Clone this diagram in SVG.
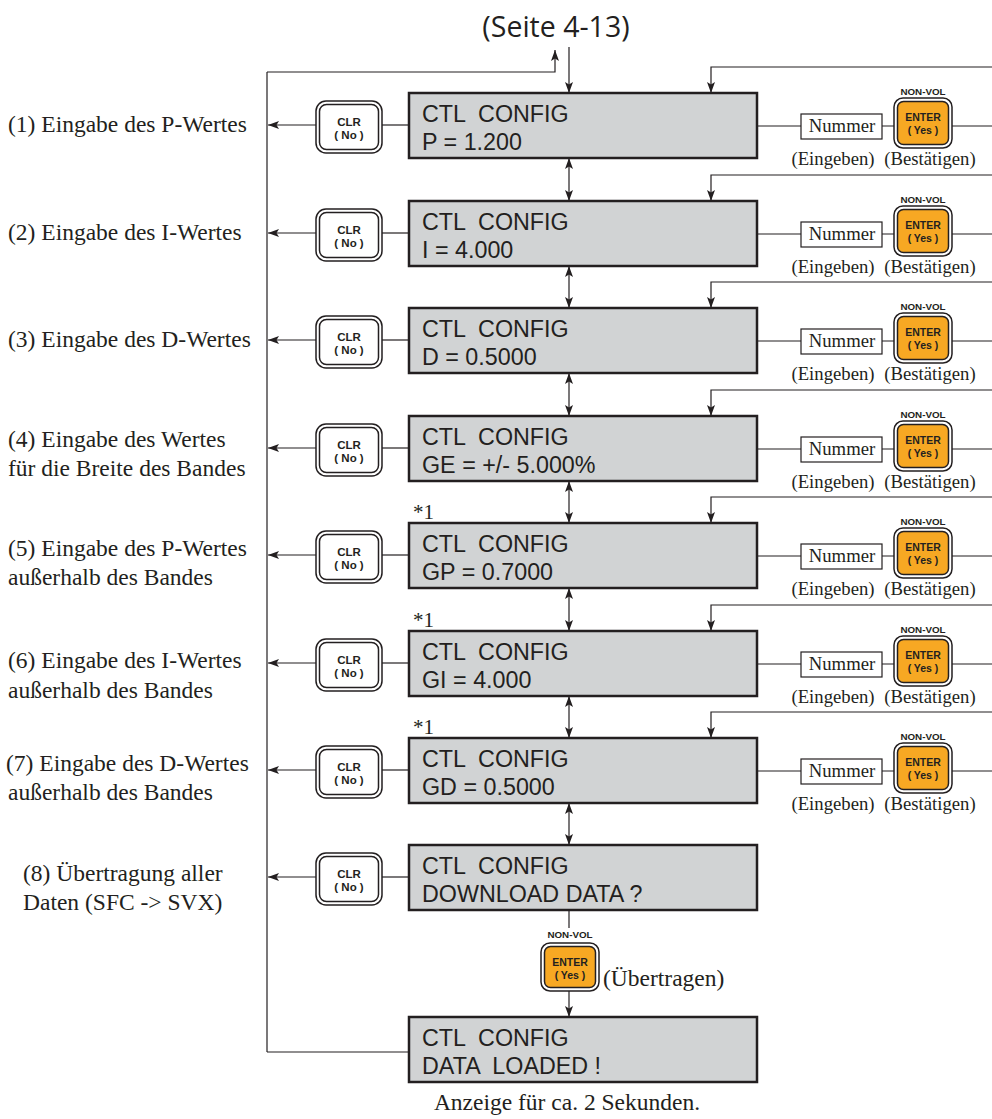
<svg xmlns="http://www.w3.org/2000/svg" width="992" height="1119" viewBox="0 0 992 1119">
<style>
.bg{fill:#fff}
.lcd{fill:#D1D3D4;stroke:#231F20;stroke-width:2.5}
.lcdt{font-family:"Liberation Sans",Arial,sans-serif;font-size:23.3px;fill:#231F20}
.lbl{font-family:"Liberation Serif","Times New Roman",serif;font-size:23.5px;fill:#231F20}
.ast{font-family:"Liberation Serif","Times New Roman",serif;font-size:21px;fill:#231F20}
.sm{font-family:"Liberation Serif","Times New Roman",serif;font-size:18.7px;fill:#231F20;text-anchor:middle}
.bo{fill:#fff;stroke:#231F20;stroke-width:1.5}
.bi{fill:#fff;stroke:#231F20;stroke-width:1.5}
.ei{fill:#F7A823;stroke:#231F20;stroke-width:1.5}
.bt{font-family:"Liberation Sans",Arial,sans-serif;font-weight:bold;font-size:11.5px;fill:#231F20;text-anchor:middle}
.et{font-family:"Liberation Sans",Arial,sans-serif;font-weight:bold;font-size:10.5px;fill:#231F20;text-anchor:middle}
.nv{font-family:"Liberation Sans",Arial,sans-serif;font-weight:bold;font-size:9.8px;fill:#231F20;text-anchor:middle}
.num{fill:#fff;stroke:#231F20;stroke-width:1.2}
.c{fill:none;stroke:#231F20;stroke-width:1.2}
.ca{fill:none;stroke:#231F20;stroke-width:1.2;marker-end:url(#ah)}
.cd{fill:none;stroke:#231F20;stroke-width:1.2;marker-end:url(#ah);marker-start:url(#ah)}
</style>
<defs>
<marker id="ah" markerWidth="11" markerHeight="8" refX="11" refY="4" orient="auto-start-reverse" markerUnits="userSpaceOnUse">
<path d="M0,0 L11,4 L0,8 L2.5,4 z" fill="#231F20"/>
</marker>
</defs>
<rect class="bg" x="0" y="0" width="992" height="1119"/>

<g id="connectors">
<path class="c" d="M267,1052 V72"/>
<path class="ca" d="M267,72 H555 V50"/>
<path class="ca" d="M569,47 V93"/>
<path class="c" d="M267,1052 H409"/>
<!-- row 1 -->
<path class="ca" d="M316,125 H268"/><path class="c" d="M382,125 H409"/>
<path class="c" d="M757,126 H801 M882,126 H894 M952,126 H992"/>
<path class="ca" d="M992,67 H711 V93"/>
<path class="cd" d="M569,158 V201"/>
<!-- row 2 -->
<path class="ca" d="M316,233 H268"/><path class="c" d="M382,233 H409"/>
<path class="c" d="M757,234 H801 M882,234 H894 M952,234 H992"/>
<path class="ca" d="M992,175 H711 V201"/>
<path class="cd" d="M569,266 V308"/>
<!-- row 3 -->
<path class="ca" d="M316,340 H268"/><path class="c" d="M382,340 H409"/>
<path class="c" d="M757,341 H801 M882,341 H894 M952,341 H992"/>
<path class="ca" d="M992,282 H711 V308"/>
<path class="cd" d="M569,373 V416"/>
<!-- row 4 -->
<path class="ca" d="M316,448 H268"/><path class="c" d="M382,448 H409"/>
<path class="c" d="M757,449 H801 M882,449 H894 M952,449 H992"/>
<path class="ca" d="M992,390 H711 V416"/>
<path class="cd" d="M569,481 V523"/>
<!-- row 5 -->
<path class="ca" d="M316,555 H268"/><path class="c" d="M382,555 H409"/>
<path class="c" d="M757,556 H801 M882,556 H894 M952,556 H992"/>
<path class="ca" d="M992,497 H711 V523"/>
<path class="cd" d="M569,588 V631"/>
<!-- row 6 -->
<path class="ca" d="M316,663 H268"/><path class="c" d="M382,663 H409"/>
<path class="c" d="M757,664 H801 M882,664 H894 M952,664 H992"/>
<path class="ca" d="M992,605 H711 V631"/>
<path class="cd" d="M569,696 V738"/>
<!-- row 7 -->
<path class="ca" d="M316,770 H268"/><path class="c" d="M382,770 H409"/>
<path class="c" d="M757,771 H801 M882,771 H894 M952,771 H992"/>
<path class="ca" d="M992,712 H711 V738"/>
<path class="cd" d="M569,803 V845"/>
<!-- row 8 -->
<path class="ca" d="M316,877 H268"/><path class="c" d="M382,877 H409"/>
<path class="c" d="M569,910 V928"/>
<path class="ca" d="M569,991 V1017"/>
</g>

<text x="556" y="37" text-anchor="middle" style="font-family:'Open Sans',sans-serif;font-size:28.5px;fill:#231F20">(Seite 4-13)</text>

<!-- Row 1 -->
<g id="label1"><text class="lbl" x="8" y="132">(1) Eingabe des P-Wertes</text></g>
<g id="clr1"><rect class="bo" x="316" y="101" width="66" height="52" rx="10"/><rect class="bi" x="319.5" y="104.5" width="59" height="45" rx="7"/><text class="bt" x="349" y="126">CLR</text><text class="bt" x="349" y="139">( No )</text></g>
<g id="lcd1"><rect class="lcd" x="409" y="93" width="348" height="65"/><text class="lcdt" x="422" y="122" xml:space="preserve">CTL  CONFIG</text><text class="lcdt" x="422" y="150">P = 1.200</text></g>
<g id="num1"><rect class="num" x="801" y="114" width="81" height="25"/><text class="sm" x="842" y="132">Nummer</text><text class="sm" x="833" y="165">(Eingeben)</text></g>
<g id="ent1"><text class="nv" x="923" y="95">NON-VOL</text><rect class="bo" x="894" y="98" width="58" height="50" rx="9"/><rect class="ei" x="897.5" y="101.5" width="51" height="43" rx="6"/><text class="et" x="923" y="121">ENTER</text><text class="et" x="923" y="134">( Yes )</text><text class="sm" x="930" y="165">(Bestätigen)</text></g>

<!-- Row 2 -->
<g id="label2"><text class="lbl" x="8" y="240">(2) Eingabe des I-Wertes</text></g>
<g id="clr2"><rect class="bo" x="316" y="209" width="66" height="52" rx="10"/><rect class="bi" x="319.5" y="212.5" width="59" height="45" rx="7"/><text class="bt" x="349" y="234">CLR</text><text class="bt" x="349" y="247">( No )</text></g>
<g id="lcd2"><rect class="lcd" x="409" y="201" width="348" height="65"/><text class="lcdt" x="422" y="230" xml:space="preserve">CTL  CONFIG</text><text class="lcdt" x="422" y="258">I = 4.000</text></g>
<g id="num2"><rect class="num" x="801" y="222" width="81" height="25"/><text class="sm" x="842" y="240">Nummer</text><text class="sm" x="833" y="273">(Eingeben)</text></g>
<g id="ent2"><text class="nv" x="923" y="203">NON-VOL</text><rect class="bo" x="894" y="206" width="58" height="50" rx="9"/><rect class="ei" x="897.5" y="209.5" width="51" height="43" rx="6"/><text class="et" x="923" y="229">ENTER</text><text class="et" x="923" y="242">( Yes )</text><text class="sm" x="930" y="273">(Bestätigen)</text></g>

<!-- Row 3 -->
<g id="label3"><text class="lbl" x="8" y="347">(3) Eingabe des D-Wertes</text></g>
<g id="clr3"><rect class="bo" x="316" y="316" width="66" height="52" rx="10"/><rect class="bi" x="319.5" y="319.5" width="59" height="45" rx="7"/><text class="bt" x="349" y="341">CLR</text><text class="bt" x="349" y="354">( No )</text></g>
<g id="lcd3"><rect class="lcd" x="409" y="308" width="348" height="65"/><text class="lcdt" x="422" y="337" xml:space="preserve">CTL  CONFIG</text><text class="lcdt" x="422" y="365">D = 0.5000</text></g>
<g id="num3"><rect class="num" x="801" y="329" width="81" height="25"/><text class="sm" x="842" y="347">Nummer</text><text class="sm" x="833" y="380">(Eingeben)</text></g>
<g id="ent3"><text class="nv" x="923" y="310">NON-VOL</text><rect class="bo" x="894" y="313" width="58" height="50" rx="9"/><rect class="ei" x="897.5" y="316.5" width="51" height="43" rx="6"/><text class="et" x="923" y="336">ENTER</text><text class="et" x="923" y="349">( Yes )</text><text class="sm" x="930" y="380">(Bestätigen)</text></g>

<!-- Row 4 -->
<g id="label4"><text class="lbl" x="8" y="447">(4) Eingabe des Wertes</text><text class="lbl" x="8" y="476">für die Breite des Bandes</text></g>
<g id="clr4"><rect class="bo" x="316" y="424" width="66" height="52" rx="10"/><rect class="bi" x="319.5" y="427.5" width="59" height="45" rx="7"/><text class="bt" x="349" y="449">CLR</text><text class="bt" x="349" y="462">( No )</text></g>
<g id="lcd4"><rect class="lcd" x="409" y="416" width="348" height="65"/><text class="lcdt" x="422" y="445" xml:space="preserve">CTL  CONFIG</text><text class="lcdt" x="422" y="473">GE = +/- 5.000%</text></g>
<g id="num4"><rect class="num" x="801" y="437" width="81" height="25"/><text class="sm" x="842" y="455">Nummer</text><text class="sm" x="833" y="488">(Eingeben)</text></g>
<g id="ent4"><text class="nv" x="923" y="418">NON-VOL</text><rect class="bo" x="894" y="421" width="58" height="50" rx="9"/><rect class="ei" x="897.5" y="424.5" width="51" height="43" rx="6"/><text class="et" x="923" y="444">ENTER</text><text class="et" x="923" y="457">( Yes )</text><text class="sm" x="930" y="488">(Bestätigen)</text></g>

<!-- Row 5 -->
<g id="label5"><text class="lbl" x="8" y="556">(5) Eingabe des P-Wertes</text><text class="lbl" x="8" y="585">außerhalb des Bandes</text></g>
<g id="clr5"><rect class="bo" x="316" y="531" width="66" height="52" rx="10"/><rect class="bi" x="319.5" y="534.5" width="59" height="45" rx="7"/><text class="bt" x="349" y="556">CLR</text><text class="bt" x="349" y="569">( No )</text></g>
<g id="lcd5"><text class="ast" x="413" y="519">*1</text><rect class="lcd" x="409" y="523" width="348" height="65"/><text class="lcdt" x="422" y="552" xml:space="preserve">CTL  CONFIG</text><text class="lcdt" x="422" y="580">GP = 0.7000</text></g>
<g id="num5"><rect class="num" x="801" y="544" width="81" height="25"/><text class="sm" x="842" y="562">Nummer</text><text class="sm" x="833" y="595">(Eingeben)</text></g>
<g id="ent5"><text class="nv" x="923" y="525">NON-VOL</text><rect class="bo" x="894" y="528" width="58" height="50" rx="9"/><rect class="ei" x="897.5" y="531.5" width="51" height="43" rx="6"/><text class="et" x="923" y="551">ENTER</text><text class="et" x="923" y="564">( Yes )</text><text class="sm" x="930" y="595">(Bestätigen)</text></g>

<!-- Row 6 -->
<g id="label6"><text class="lbl" x="8" y="668">(6) Eingabe des I-Wertes</text><text class="lbl" x="8" y="698">außerhalb des Bandes</text></g>
<g id="clr6"><rect class="bo" x="316" y="639" width="66" height="52" rx="10"/><rect class="bi" x="319.5" y="642.5" width="59" height="45" rx="7"/><text class="bt" x="349" y="664">CLR</text><text class="bt" x="349" y="677">( No )</text></g>
<g id="lcd6"><text class="ast" x="413" y="627">*1</text><rect class="lcd" x="409" y="631" width="348" height="65"/><text class="lcdt" x="422" y="660" xml:space="preserve">CTL  CONFIG</text><text class="lcdt" x="422" y="688">GI = 4.000</text></g>
<g id="num6"><rect class="num" x="801" y="652" width="81" height="25"/><text class="sm" x="842" y="670">Nummer</text><text class="sm" x="833" y="703">(Eingeben)</text></g>
<g id="ent6"><text class="nv" x="923" y="633">NON-VOL</text><rect class="bo" x="894" y="636" width="58" height="50" rx="9"/><rect class="ei" x="897.5" y="639.5" width="51" height="43" rx="6"/><text class="et" x="923" y="659">ENTER</text><text class="et" x="923" y="672">( Yes )</text><text class="sm" x="930" y="703">(Bestätigen)</text></g>

<!-- Row 7 -->
<g id="label7"><text class="lbl" x="6" y="771">(7) Eingabe des D-Wertes</text><text class="lbl" x="8" y="800">außerhalb des Bandes</text></g>
<g id="clr7"><rect class="bo" x="316" y="746" width="66" height="52" rx="10"/><rect class="bi" x="319.5" y="749.5" width="59" height="45" rx="7"/><text class="bt" x="349" y="771">CLR</text><text class="bt" x="349" y="784">( No )</text></g>
<g id="lcd7"><text class="ast" x="413" y="734">*1</text><rect class="lcd" x="409" y="738" width="348" height="65"/><text class="lcdt" x="422" y="767" xml:space="preserve">CTL  CONFIG</text><text class="lcdt" x="422" y="795">GD = 0.5000</text></g>
<g id="num7"><rect class="num" x="801" y="759" width="81" height="25"/><text class="sm" x="842" y="777">Nummer</text><text class="sm" x="833" y="810">(Eingeben)</text></g>
<g id="ent7"><text class="nv" x="923" y="740">NON-VOL</text><rect class="bo" x="894" y="743" width="58" height="50" rx="9"/><rect class="ei" x="897.5" y="746.5" width="51" height="43" rx="6"/><text class="et" x="923" y="766">ENTER</text><text class="et" x="923" y="779">( Yes )</text><text class="sm" x="930" y="810">(Bestätigen)</text></g>

<!-- Row 8 -->
<g id="label8"><text class="lbl" x="23" y="881">(8) Übertragung aller</text><text class="lbl" x="23" y="910">Daten (SFC -&gt; SVX)</text></g>
<g id="clr8"><rect class="bo" x="316" y="853" width="66" height="52" rx="10"/><rect class="bi" x="319.5" y="856.5" width="59" height="45" rx="7"/><text class="bt" x="349" y="878">CLR</text><text class="bt" x="349" y="891">( No )</text></g>
<g id="lcd8"><rect class="lcd" x="409" y="845" width="348" height="65"/><text class="lcdt" x="422" y="874" xml:space="preserve">CTL  CONFIG</text><text class="lcdt" x="422" y="902">DOWNLOAD DATA ?</text></g>
<g id="ent8"><text class="nv" x="570" y="938">NON-VOL</text><rect class="bo" x="541" y="943" width="58" height="48" rx="9"/><rect class="ei" x="544.5" y="946.5" width="51" height="41" rx="6"/><text class="et" x="570" y="966">ENTER</text><text class="et" x="570" y="979">( Yes )</text><text class="lbl" x="603" y="986">(Übertragen)</text></g>

<!-- Final -->
<g id="lcd9"><rect class="lcd" x="409" y="1017" width="348" height="65"/><text class="lcdt" x="422" y="1046" xml:space="preserve">CTL  CONFIG</text><text class="lcdt" x="422" y="1074" xml:space="preserve">DATA  LOADED !</text></g>
<text class="lbl" x="567" y="1110" text-anchor="middle">Anzeige für ca. 2 Sekunden.</text>
</svg>
